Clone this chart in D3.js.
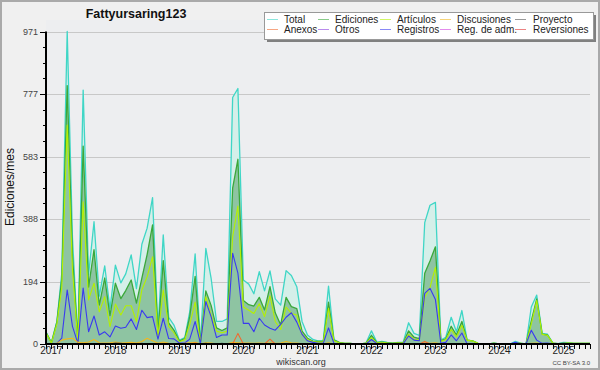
<!DOCTYPE html>
<html lang="es">
<head>
<meta charset="UTF-8">
<title>Fattyursaring123</title>
<script src="https://d3js.org/d3.v7.min.js"></script>
<style>
  body { margin: 0; background: #f0f0f0; }
  svg { display: block; font-family: "Liberation Sans", Arial, sans-serif; }
</style>
</head>
<body>
<svg width="600" height="370"></svg>
<script>
// one value per month, Dec 2016 .. Jun 2025
const months = d3.utcMonth.range(new Date(Date.UTC(2016, 11, 1)), new Date(Date.UTC(2025, 6, 1)));
const years = [2017, 2018, 2019, 2020, 2021, 2022, 2023, 2024, 2025];
const yMax = 971;
const yLabels = ["0", "194", "388", "583", "777", "971"];

const total = [38,
  4, 70, 220, 971, 330, 10, 789, 215, 380, 149, 243, 110,
  245, 190, 218, 277, 172, 310, 360, 455, 45, 339, 83, 59,
  12, 20, 100, 280, 5, 297, 205, 70, 70, 78, 766, 794,
  199, 186, 156, 225, 165, 227, 140, 121, 228, 213, 178, 70,
  28, 14, 10, 10, 180, 14, 5, 2, 2, 0, 0, 3,
  41, 5, 8, 5, 3, 5, 5, 66, 33, 27, 377, 431,
  440, 12, 21, 83, 38, 104, 12, 10, 2, 0, 0, 3,
  0, 0, 0, 8, 3, 0, 115, 152, 33, 31, 3, 1,
  5, 4, 2, 2, 2, 2];
const ediciones = [36,
  4, 68, 202, 803, 275, 8, 615, 177, 293, 121, 205, 88,
  189, 141, 166, 199, 127, 205, 278, 370, 30, 259, 66, 43,
  9, 17, 85, 210, 3, 165, 120, 50, 42, 50, 484, 574,
  135, 122, 118, 145, 106, 178, 97, 60, 145, 116, 110, 40,
  18, 9, 8, 8, 130, 12, 5, 2, 2, 0, 0, 3,
  27, 4, 6, 4, 3, 4, 4, 41, 21, 17, 220, 258,
  302, 10, 16, 55, 28, 70, 12, 10, 2, 0, 0, 3,
  0, 0, 0, 3, 2, 0, 72, 140, 31, 28, 3, 1,
  3, 3, 2, 2, 2, 2];
const articulos = [34,
  3, 62, 175, 680, 230, 6, 442, 137, 189, 100, 147, 54,
  124, 90, 119, 119, 69, 168, 209, 271, 25, 168, 55, 35,
  7, 14, 60, 130, 2, 147, 90, 40, 35, 40, 333, 429,
  115, 105, 95, 125, 85, 150, 70, 45, 115, 95, 90, 30,
  14, 7, 6, 6, 111, 10, 4, 2, 2, 0, 0, 3,
  20, 3, 5, 3, 2, 3, 3, 30, 15, 12, 145, 175,
  238, 8, 14, 45, 22, 58, 12, 9, 2, 0, 0, 2,
  0, 0, 0, 3, 2, 0, 62, 135, 30, 27, 3, 1,
  2, 3, 2, 2, 2, 2];
const registros = [2,
  0, 2, 18, 168, 55, 2, 174, 38, 87, 28, 38, 22,
  56, 49, 52, 78, 45, 105, 82, 85, 15, 80, 17, 16,
  3, 3, 15, 70, 2, 132, 85, 20, 28, 28, 282, 220,
  64, 64, 38, 80, 59, 49, 43, 61, 83, 97, 68, 30,
  10, 5, 2, 2, 50, 2, 0, 0, 0, 0, 0, 0,
  14, 1, 2, 1, 0, 1, 1, 25, 12, 10, 157, 173,
  138, 2, 5, 28, 10, 34, 0, 0, 0, 0, 0, 0,
  0, 0, 0, 5, 1, 0, 43, 12, 2, 3, 0, 0,
  2, 1, 0, 0, 0, 0];
const discusiones = [0,
  0, 2, 12, 16, 18, 5, 4, 6, 14, 4, 3, 4,
  6, 3, 4, 5, 3, 8, 18, 10, 2, 6, 2, 1,
  0, 2, 4, 5, 0, 4, 3, 1, 1, 1, 5, 4,
  3, 3, 2, 3, 2, 4, 2, 3, 8, 4, 3, 1,
  0, 0, 0, 0, 4, 0, 0, 0, 0, 0, 0, 0,
  1, 0, 0, 0, 0, 0, 0, 1, 0, 0, 3, 2,
  4, 0, 0, 1, 0, 2, 0, 0, 0, 0, 0, 0,
  0, 0, 0, 0, 0, 0, 2, 3, 0, 0, 0, 0,
  0, 0, 0, 0, 0, 0];
const anexos = [0,
  0, 0, 0, 0, 0, 0, 0, 0, 0, 0, 0, 0,
  0, 0, 0, 0, 0, 0, 0, 0, 0, 0, 0, 0,
  0, 0, 0, 3, 0, 0, 0, 0, 0, 0, 0, 33,
  0, 0, 0, 0, 0, 15, 0, 0, 0, 0, 0, 0,
  0, 0, 0, 0, 0, 0, 0, 0, 0, 0, 0, 0,
  0, 0, 0, 0, 0, 0, 0, 0, 0, 0, 8, 0,
  0, 0, 0, 0, 0, 0, 0, 0, 0, 0, 0, 0,
  0, 0, 0, 0, 0, 0, 0, 0, 0, 0, 0, 0,
  0, 0, 0, 0, 0, 0];
const proyecto = [0,
  0, 0, 0, 0, 0, 0, 0, 0, 0, 0, 0, 0,
  3, 2, 0, 0, 0, 2, 0, 0, 0, 0, 0, 0,
  0, 0, 0, 0, 0, 2, 0, 0, 2, 0, 0, 0,
  0, 0, 0, 0, 0, 0, 0, 0, 0, 0, 0, 0,
  0, 0, 0, 0, 0, 0, 0, 0, 0, 0, 0, 0,
  0, 0, 0, 0, 0, 0, 0, 0, 0, 0, 0, 0,
  0, 0, 0, 0, 0, 0, 0, 0, 0, 0, 0, 0,
  0, 0, 0, 0, 0, 0, 0, 0, 0, 0, 0, 0,
  0, 0, 0, 0, 0, 0];
const zeros = months.map(() => 0); // Otros, Reg. de adm., Reversiones stay at 0

const series = [
  { name: "Total", color: "#3fd6c6", values: total },
  { name: "Ediciones", color: "#3aa83a", values: ediciones },
  { name: "Artículos", color: "#b4f000", values: articulos },
  { name: "Discusiones", color: "#f0b820", values: discusiones },
  { name: "Proyecto", color: "#555555", values: proyecto },
  { name: "Anexos", color: "#f06a30", values: anexos },
  { name: "Otros", color: "#8a3ee0", values: zeros },
  { name: "Registros", color: "#3a3af0", values: registros },
  { name: "Reg. de adm.", color: "#d040e0", values: zeros },
  { name: "Reversiones", color: "#e03030", values: zeros }
];

const svg = d3.select("svg");
const plotLeft = 46, plotRight = 590, plotTop = 31.5, plotBottom = 344;

const x = d3.scaleUtc().domain([months[0], months[months.length - 1]]).range([plotLeft, plotRight]);
const y = d3.scaleLinear().domain([0, yMax]).range([plotBottom, plotTop]);

// background + frame
svg.append("rect").attr("x", 1).attr("y", 1).attr("width", 598).attr("height", 368)
  .attr("fill", "#f0f0f0").attr("stroke", "#aaa").attr("stroke-width", 2);
svg.append("rect").attr("x", plotLeft).attr("y", 20).attr("width", plotRight - plotLeft).attr("height", plotBottom - 20)
  .attr("fill", "#edeef0");

// grid
const major = d3.range(0, 6).map(i => i * yMax / 5);
svg.append("g").selectAll("line").data(major.slice(1)).join("line")
  .attr("x1", plotLeft).attr("x2", plotRight)
  .attr("y1", d => Math.round(y(d)) + 0.5).attr("y2", d => Math.round(y(d)) + 0.5)
  .attr("stroke", "#c8c8c8");

// areas
const area = vals => d3.area()
  .x((d, i) => x(months[i]))
  .y0(plotBottom)
  .y1(d => y(d))(vals);

svg.append("path").attr("d", area(total)).attr("fill", "#d5efe9");
svg.append("path").attr("d", area(ediciones)).attr("fill", "#8ec4a2");

// lines
const line = d3.line().x((d, i) => x(months[i])).y(d => y(d));
const drawOrder = ["Total", "Ediciones", "Artículos", "Registros", "Discusiones", "Proyecto", "Anexos", "Otros", "Reg. de adm.", "Reversiones"];
drawOrder.forEach(n => {
  const s = series.find(d => d.name === n);
  svg.append("path").attr("d", line(s.values))
    .attr("fill", "none").attr("stroke", s.color)
    .attr("stroke-width", n === "Total" || n === "Ediciones" ? 1.3 : 1.1)
    .attr("stroke-linejoin", "round");
});

// y axis
const minor = d3.range(0, 21).map(i => i * yMax / 20);
svg.append("g").selectAll("line").data(minor).join("line")
  .attr("x1", (d, i) => i % 4 === 0 ? plotLeft - 6 : plotLeft - 3).attr("x2", plotLeft)
  .attr("y1", d => Math.round(y(d)) + 0.5).attr("y2", d => Math.round(y(d)) + 0.5)
  .attr("stroke", "#000");
svg.append("line").attr("x1", plotLeft).attr("x2", plotLeft).attr("y1", plotTop).attr("y2", plotBottom + 1)
  .attr("stroke", "#000").attr("stroke-width", 2);
svg.append("g").selectAll("text").data(major).join("text")
  .attr("x", plotLeft - 8).attr("y", d => y(d) + 3)
  .attr("text-anchor", "end").attr("font-size", 9).attr("fill", "#444")
  .text((d, i) => yLabels[i]);
svg.append("text")
  .attr("transform", "translate(13.5,187) rotate(-90)")
  .attr("text-anchor", "middle").attr("font-size", 12).attr("fill", "#111")
  .text("Ediciones/mes");

// x axis
svg.append("g").selectAll("line").data(months).join("line")
  .attr("x1", d => Math.round(x(d)) + 0.5).attr("x2", d => Math.round(x(d)) + 0.5)
  .attr("y1", plotBottom).attr("y2", plotBottom + 5)
  .attr("stroke", "#000");
svg.append("line").attr("x1", plotLeft - 1).attr("x2", plotRight).attr("y1", plotBottom).attr("y2", plotBottom)
  .attr("stroke", "#000").attr("stroke-width", 2);
svg.append("g").selectAll("text").data(years).join("text")
  .attr("x", d => x(new Date(Date.UTC(d, 0, 1))))
  .attr("y", 354).attr("text-anchor", "middle")
  .attr("font-size", 10).attr("fill", "#222")
  .text(d => d);

// title + credits
svg.append("text").attr("x", 136).attr("y", 17.5).attr("text-anchor", "middle")
  .attr("font-size", 12.5).attr("font-weight", "bold").attr("fill", "#111")
  .text("Fattyursaring123");
svg.append("text").attr("x", 301).attr("y", 365).attr("text-anchor", "middle")
  .attr("font-size", 9).attr("fill", "#333").text("wikiscan.org");
svg.append("text").attr("x", 590).attr("y", 365).attr("text-anchor", "end")
  .attr("font-size", 6).attr("fill", "#444").text("CC BY-SA 3.0");

// legend
const lg = svg.append("g");
lg.append("rect").attr("x", 267).attr("y", 15).attr("width", 329).attr("height", 27).attr("fill", "#808080");
lg.append("rect").attr("x", 264.5).attr("y", 12.5).attr("width", 329).attr("height", 27)
  .attr("fill", "#fff").attr("stroke", "#999");
const colLine = [267, 318, 380, 440, 515];
const colText = [284, 335, 397, 457, 533];
series.forEach((s, i) => {
  const c = i % 5, r = Math.floor(i / 5);
  const yy = 19.5 + r * 10;
  lg.append("line").attr("x1", colLine[c]).attr("x2", colLine[c] + 11)
    .attr("y1", yy).attr("y2", yy).attr("stroke", s.color).attr("stroke-opacity", 0.6);
  lg.append("text").attr("x", colText[c]).attr("y", yy + 3.5)
    .attr("font-size", 10).attr("fill", "#222").text(s.name);
});
</script>
</body>
</html>
